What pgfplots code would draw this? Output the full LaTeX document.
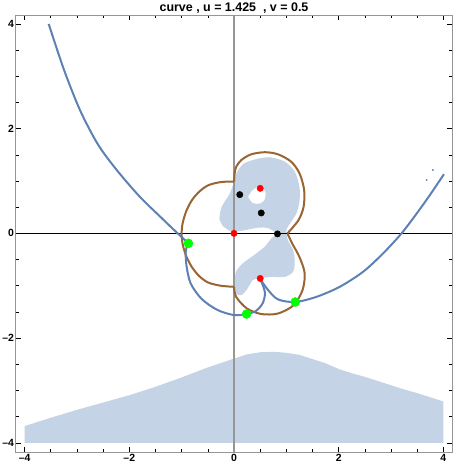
\documentclass[border=0pt]{standalone}
\usepackage{pgfplots}
\pgfplotsset{compat=1.18}
\usepackage{fontspec}
\setmainfont{Liberation Sans}

\definecolor{curveblue}{RGB}{94,129,181}
\definecolor{lobebrown}{RGB}{153,102,51}
\definecolor{blobfill}{RGB}{197,211,230}
\definecolor{framegray}{RGB}{150,150,150}
\definecolor{dotgreen}{RGB}{0,255,0}
\definecolor{dotred}{RGB}{255,0,0}

\begin{document}
\begin{tikzpicture}
\begin{axis}[
  width=436.6bp, height=437.3bp, scale only axis,
  xmin=-4.17, xmax=4.17, ymin=-4.18, ymax=4.17,
  xtick={-4,-2,0,2,4}, ytick={-4,-2,0,2,4},
  xticklabels={--4,--2,0,2,4}, yticklabels={--4,--2,0,2,4},
  minor tick num=3,
  tick align=inside,
  major tick length=5bp, minor tick length=3bp,
  axis line style={framegray, line width=0.8bp},
  tick style={black, line width=0.6bp},
  tick label style={font=\bfseries\fontsize{10.5}{12}\selectfont},
  yticklabel style={inner sep=1.5bp},
  xticklabel style={inner sep=2bp},
  every axis title shift=0pt,
  title={curve , u = 1.425\ \ , v = 0.5},
  title style={font=\bfseries\fontsize{12.5}{14}\selectfont, at={(0.5,1)},
    anchor=base, yshift=3.5bp, inner sep=0bp},
]

% blob
\addplot[fill=blobfill, draw=none, smooth] coordinates {
 (-0.28,0.28) (-0.25,0.47) (-0.17,0.62) (-0.09,0.74) (-0.03,0.89) (0.01,1.02)
 (0.04,1.13) (0.08,1.21) (0.2,1.34) (0.47,1.43) (0.71,1.45) (0.97,1.37)
 (1.16,1.18) (1.25,0.89) (1.25,0.60) (1.19,0.38) (1.09,0.22) (1.0,0.06)
 (1.03,-0.13) (1.13,-0.32) (1.16,-0.54) (1.13,-0.73) (0.97,-0.83) (0.71,-0.83)
 (0.5,-0.86) (0.36,-0.89) (0.24,-1.08) (0.14,-1.18) (0.04,-1.15) (0.01,-0.95)
 (0.04,-0.73) (0.17,-0.57) (0.39,-0.41) (0.58,-0.26) (0.71,-0.10) (0.80,0.0)
 (0.65,0.10) (0.47,0.11) (0.2,0.06) (0.0,0.03) (-0.1,0.06) (-0.22,0.15)
 (-0.28,0.28)
};
% hole
\addplot[fill=white, draw=none, smooth] coordinates {
 (0.27,0.70) (0.36,0.83) (0.49,0.89) (0.60,0.79) (0.58,0.64) (0.49,0.57)
 (0.36,0.58) (0.27,0.70)
};
% bottom band
\addplot[fill=blobfill, draw=none] coordinates {
 (-4,-4) (-4,-3.68) (-3.5,-3.52) (-3,-3.37) (-2.5,-3.23) (-2,-3.09) (-1.5,-2.93)
 (-1,-2.75) (-0.5,-2.56) (0,-2.39) (0.25,-2.31) (0.5,-2.27) (0.75,-2.26)
 (1,-2.28) (1.25,-2.32) (1.5,-2.40) (1.75,-2.48) (2,-2.59) (2.25,-2.67)
 (2.5,-2.74) (2.75,-2.82) (3,-2.90) (3.25,-2.98) (3.5,-3.05) (3.75,-3.13)
 (4,-3.21) (4,-4)
};

% axes through origin
\addplot[color=framegray, line width=1.5bp] coordinates {(0,-4.18) (0,4.17)};
\addplot[color=black, line width=0.7bp] coordinates {(-4.17,0) (4.17,0)};

% brown lobes
\addplot[lobebrown, line width=2bp, smooth] coordinates {
 (0,0.99) (-0.25,0.98) (-0.49,0.92) (-0.66,0.8) (-0.8,0.64) (-0.91,0.43)
 (-0.98,0.2) (-1.0,0) (-0.98,-0.21) (-0.91,-0.44) (-0.8,-0.65) (-0.66,-0.82)
 (-0.49,-0.94) (-0.25,-1.0) (0,-1.02)
};
\addplot[lobebrown, line width=2bp, smooth] coordinates {
 (0,0.99) (0.03,1.24) (0.14,1.40) (0.33,1.51) (0.59,1.55) (0.84,1.51)
 (1.09,1.37) (1.25,1.15) (1.34,0.83) (1.33,0.51) (1.23,0.25) (1.02,0)
};
\addplot[lobebrown, line width=2bp, smooth] coordinates {
 (1.02,0) (1.11,-0.19) (1.25,-0.45) (1.35,-0.76) (1.31,-1.08) (1.14,-1.37)
 (0.84,-1.53) (0.52,-1.54) (0.24,-1.43) (0.04,-1.21) (0,-1.02)
};

% blue curve
\addplot[curveblue, line width=2bp, smooth] coordinates {
 (-3.54,4.0) (-3.25,3.13) (-2.94,2.35) (-2.6,1.70) (-2.24,1.21) (-1.8,0.70)
 (-1.41,0.32) (-1.15,0.07) (-0.87,-0.19)
};
\addplot[curveblue, line width=2bp, smooth] coordinates {
 (-0.87,-0.19) (-0.92,-0.32) (-0.91,-0.6) (-0.83,-0.95) (-0.62,-1.25)
 (-0.32,-1.46) (0,-1.56) (0.24,-1.54) (0.42,-1.48) (0.55,-1.33) (0.59,-1.12)
 (0.5,-0.87)
};
\addplot[curveblue, line width=2bp, smooth] coordinates {
 (0.5,-0.87) (0.65,-1.08) (0.84,-1.26) (1.17,-1.31) (1.58,-1.21)
 (2.02,-1.02) (2.47,-0.73) (2.85,-0.38) (3.2,0.0) (3.49,0.38) (3.74,0.73)
 (4.01,1.13)
};
\addplot[only marks, mark=*, mark size=0.7bp, curveblue] coordinates {(3.68,1.02) (3.80,1.21)};

% points
\addplot[only marks, mark=*, mark size=4.5bp, dotgreen] coordinates {
 (-0.87,-0.19) (0.24,-1.54) (1.17,-1.31)
};
\addplot[only marks, mark=*, mark size=3.2bp, dotred] coordinates {
 (0,0) (0.5,0.86) (0.5,-0.86)
};
\addplot[only marks, mark=*, mark size=3.2bp, black] coordinates {
 (0.11,0.74) (0.52,0.39) (0.83,-0.01)
};
\end{axis}
\path (current axis.south west) ++(-15.7bp,-22.7bp) coordinate (bl);
\path (current axis.north east) ++(18.7bp,15bp) coordinate (tr);
\pgfresetboundingbox
\path[use as bounding box] (bl) rectangle (tr);
\end{tikzpicture}
\end{document}
